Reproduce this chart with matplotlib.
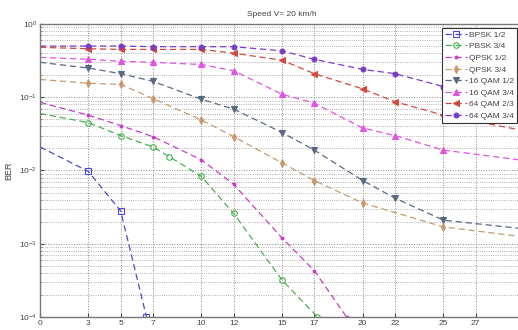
import matplotlib
matplotlib.use("Agg")
import matplotlib.pyplot as plt
import numpy as np

plt.rcParams['font.family'] = ['Liberation Sans', 'DejaVu Sans']

# SNR values (x) and BER values (y) for every curve
bpsk12_x = [0, 3, 5, 6.6, 7.2]
bpsk12_y = [0.021, 0.0097, 0.0028, 1e-4, 2e-5]

pbsk34_x = [0, 3, 5, 7, 8, 10, 12, 15, 17.2, 18]
pbsk34_y = [0.06, 0.045, 0.03, 0.021, 0.0155, 0.0083, 0.0026, 0.00032, 1e-4, 5e-5]

qpsk12_x = [0, 3, 5, 7, 10, 12, 15, 17, 19, 20]
qpsk12_y = [0.085, 0.057, 0.041, 0.029, 0.014, 0.0065, 0.0012, 0.00043, 1e-4, 5e-5]

qpsk34_x = [0, 3, 5, 7, 10, 12, 15, 17, 20, 25, 30]
qpsk34_y = [0.175, 0.155, 0.15, 0.096, 0.049, 0.029, 0.0127, 0.0073, 0.0036, 0.0017, 0.00124]

qam16_12_x = [0, 3, 5, 7, 10, 12, 15, 17, 20, 22, 25, 30]
qam16_12_y = [0.30, 0.25, 0.21, 0.165, 0.094, 0.069, 0.033, 0.019, 0.0073, 0.0042, 0.0021, 0.0016]

qam16_34_x = [0, 3, 5, 7, 10, 12, 15, 17, 20, 22, 25, 30]
qam16_34_y = [0.35, 0.33, 0.31, 0.30, 0.28, 0.23, 0.11, 0.083, 0.038, 0.030, 0.019, 0.0137]

qam64_23_x = [0, 3, 5, 7, 10, 12, 15, 17, 20, 22, 25, 30]
qam64_23_y = [0.48, 0.46, 0.45, 0.45, 0.45, 0.40, 0.32, 0.21, 0.13, 0.087, 0.057, 0.035]

qam64_34_x = [0, 3, 5, 7, 10, 12, 15, 17, 20, 22, 25, 30]
qam64_34_y = [0.50, 0.50, 0.50, 0.49, 0.49, 0.49, 0.43, 0.33, 0.24, 0.21, 0.14, 0.09]

x_ticks = [0, 3, 5, 7, 10, 12, 15, 17, 20, 22, 25, 27]

fig = plt.figure(figsize=(5.18, 3.30), dpi=100)
ax = fig.add_axes([40/518, 13/330, 484/518, 293/330])

# (x, y, label, color, marker, markerface)
series = [
    (bpsk12_x, bpsk12_y, 'BPSK 1/2', '#4a4ad0', 's', 'none'),
    (pbsk34_x, pbsk34_y, 'PBSK 3/4', '#4caf50', 'o', 'none'),
    (qpsk12_x, qpsk12_y, 'QPSK 1/2', '#c83cc8', '.', '#c83cc8'),
    (qpsk34_x, qpsk34_y, 'QPSK 3/4', '#c89a6e', 'd', '#c89a6e'),
    (qam16_12_x, qam16_12_y, '16 QAM 1/2', '#5a6a82', 'v', '#5a6a82'),
    (qam16_34_x, qam16_34_y, '16 QAM 3/4', '#e055e0', '^', '#e055e0'),
    (qam64_23_x, qam64_23_y, '64 QAM 2/3', '#d24a3c', '<', '#d24a3c'),
    (qam64_34_x, qam64_34_y, '64 QAM 3/4', '#7a3cc8', 'o', '#7a3cc8'),
]

for x, y, lab, col, mk, mf in series:
    ms = 4
    if lab == '64 QAM 3/4':
        ms = 3.5
    ax.plot(x, y, linestyle='--', color=col, linewidth=0.9, marker=mk,
            markersize=ms, markerfacecolor=mf, markeredgecolor=col,
            markeredgewidth=0.8, markevery=slice(1, None), label=lab,
            dashes=(5, 3))

ax.set_yscale('log')
ax.set_ylim(1e-4, 1)
ax.set_xlim(0, 30)
ax.set_xticks(x_ticks)
ax.set_yticks([1e-4, 1e-3, 1e-2, 1e-1, 1])

ax.grid(True, which='major', color='#888888', linestyle=':', linewidth=0.7)
ax.grid(True, which='minor', axis='y', color='#999999', linestyle=':', linewidth=0.6)

for s in ax.spines.values():
    s.set_color('#777777')
    s.set_linewidth(1.0)

ax.tick_params(axis='both', which='major', labelsize=6, colors='#444444',
               direction='in', length=3, pad=2)
ax.tick_params(axis='y', which='minor', direction='in', length=1.5, colors='#777777')

ax.set_ylabel('BER', fontsize=6.5, color='#444444', labelpad=4)
fig.text(282/518, 1 - 15/330, 'Speed V= 20 km/h', fontsize=6, color='#444444',
         ha='center', va='center')

leg = ax.legend(loc='upper left', bbox_to_anchor=(442/518, 1 - 28/330),
                bbox_transform=fig.transFigure, fontsize=6, frameon=True,
                fancybox=False, edgecolor='#333333', framealpha=1,
                labelspacing=0.45, handlelength=2.6, borderpad=0.35,
                handletextpad=0.3, borderaxespad=0)
leg.get_frame().set_linewidth(0.8)
for t in leg.get_texts():
    t.set_color('#444444')

fig.savefig('out.png', dpi=100)
